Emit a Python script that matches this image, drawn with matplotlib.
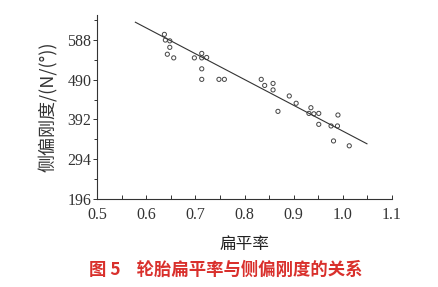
import matplotlib
matplotlib.use("Agg")
import matplotlib.pyplot as plt
from matplotlib.ticker import MultipleLocator

# aspect ratio vs cornering stiffness
ratio = [0.637, 0.639, 0.648, 0.648, 0.643, 0.656, 0.698, 0.713, 0.713, 0.723,
         0.713, 0.713, 0.748, 0.759, 0.834, 0.841, 0.858, 0.858, 0.868, 0.891,
         0.905, 0.935, 0.931, 0.941, 0.951, 0.951, 0.976, 0.989, 0.990, 0.981,
         1.013]
stiff = [602, 588, 586, 570, 553, 544, 544, 555, 544, 545,
         517, 491, 491, 491, 491, 476, 481, 465, 412, 450,
         432, 421, 407, 406, 407, 380, 376, 376, 403, 339,
         327]

# fitted line end points
fit_x = [0.578, 1.049]
fit_y = [632, 332]

yticks = [196, 294, 392, 490, 588]
xticks = [0.5, 0.6, 0.7, 0.8, 0.9, 1.0, 1.1]

plt.rcParams['font.family'] = ['Noto Sans CJK SC', 'DejaVu Sans']

fig = plt.figure(figsize=(4.39, 2.87), dpi=100)
ax = fig.add_axes([0.221, 0.307, 0.672, 0.641])

ax.plot(fit_x, fit_y, color='#333333', lw=0.8)
ax.scatter(ratio, stiff, s=9, facecolors='none', edgecolors='#444444', linewidths=0.7)

ax.set_xlim(0.5, 1.1)
ax.set_ylim(196, 650)
ax.set_xticks(xticks)
ax.set_yticks(yticks)
ax.set_xticklabels([f"{v:.1f}" for v in xticks], family='Liberation Serif', fontsize=11.5)
ax.set_yticklabels([str(v) for v in yticks], family='Liberation Serif', fontsize=11.5)
ax.xaxis.set_minor_locator(MultipleLocator(0.05))
ax.yaxis.set_minor_locator(MultipleLocator(49))
ax.tick_params(axis='x', which='both', direction='in', length=3, width=0.7, pad=6, colors='#333333')
ax.tick_params(axis='y', which='major', direction='out', length=3, width=0.7, pad=1, colors='#333333')
ax.tick_params(axis='y', which='minor', direction='out', length=2, width=0.7, colors='#333333')
ax.spines['top'].set_visible(False)
ax.spines['right'].set_visible(False)
for s in ['left', 'bottom']:
    ax.spines[s].set_linewidth(0.8)
    ax.spines[s].set_color('#333333')

ax.set_ylabel("侧偏刚度/(N/(°))", fontsize=13, color='#333333', labelpad=7)
ax.set_xlabel("扁平率", fontsize=12, color='#222222', labelpad=9)

fig.text(0.515, 0.058, "图 5    轮胎扁平率与侧偏刚度的关系", color='#d9302c',
         fontsize=12.5, fontweight='bold', ha='center', va='center')

fig.savefig("out.png", dpi=100)
